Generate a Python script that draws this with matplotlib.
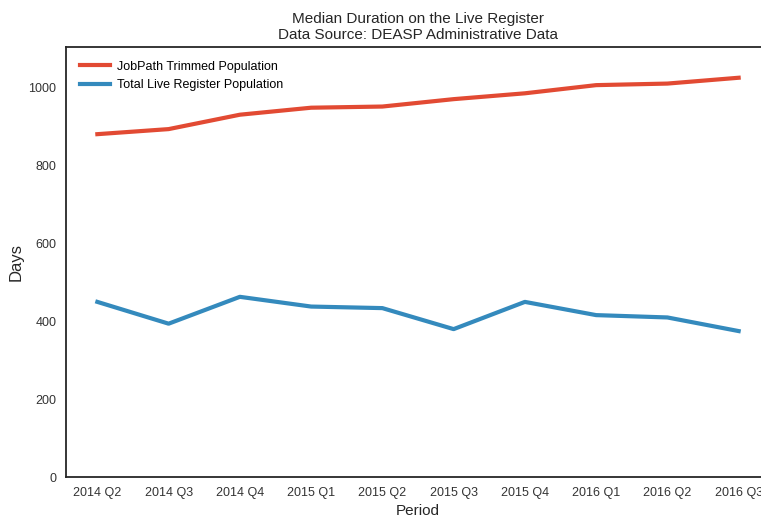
import numpy as np
import matplotlib
matplotlib.use('Agg')
import matplotlib.pyplot as plt

# values
periods = ['2014 Q2', '2014 Q3', '2014 Q4', '2015 Q1', '2015 Q2',
           '2015 Q3', '2015 Q4', '2016 Q1', '2016 Q2', '2016 Q3']
jobpath = [881, 894, 931, 949, 952, 971, 986, 1007, 1011, 1026]
live_register = [450, 394, 463, 438, 434, 380, 450, 416, 410, 375]

plt.rcParams['font.family'] = ['Liberation Sans', 'DejaVu Sans']

fig = plt.figure(figsize=(7.61, 5.18), dpi=100)
ax = fig.add_axes([66/761, 41/518, (770-66)/761, (477-47)/518])

x = np.arange(len(periods))
ax.plot(x, jobpath, color='#E24A33', lw=3, label='JobPath Trimmed Population')
ax.plot(x, live_register, color='#348ABD', lw=3, label='Total Live Register Population')

ax.set_xlim(-0.44, 9.44)
ax.set_ylim(0, 1105)
ax.set_xticks(x)
ax.set_xticklabels(periods)
ax.set_yticks([0, 200, 400, 600, 800, 1000])
ax.tick_params(length=0, pad=7, labelsize=9, colors='#333333')

for s in ax.spines.values():
    s.set_color('#262626')
    s.set_linewidth(1.3)

ax.set_title('Median Duration on the Live Register\nData Source: DEASP Administrative Data',
             fontsize=11, color='#262626', pad=6, linespacing=1.15)
ax.set_xlabel('Period', fontsize=11, color='#262626', labelpad=4)
ax.set_ylabel('Days', fontsize=12, color='#262626', labelpad=3)

ax.legend(loc='upper left', frameon=False, fontsize=9, handlelength=2.4,
          handletextpad=0.6, borderaxespad=0.7, labelspacing=0.5)

fig.savefig('out.png', dpi=100)
